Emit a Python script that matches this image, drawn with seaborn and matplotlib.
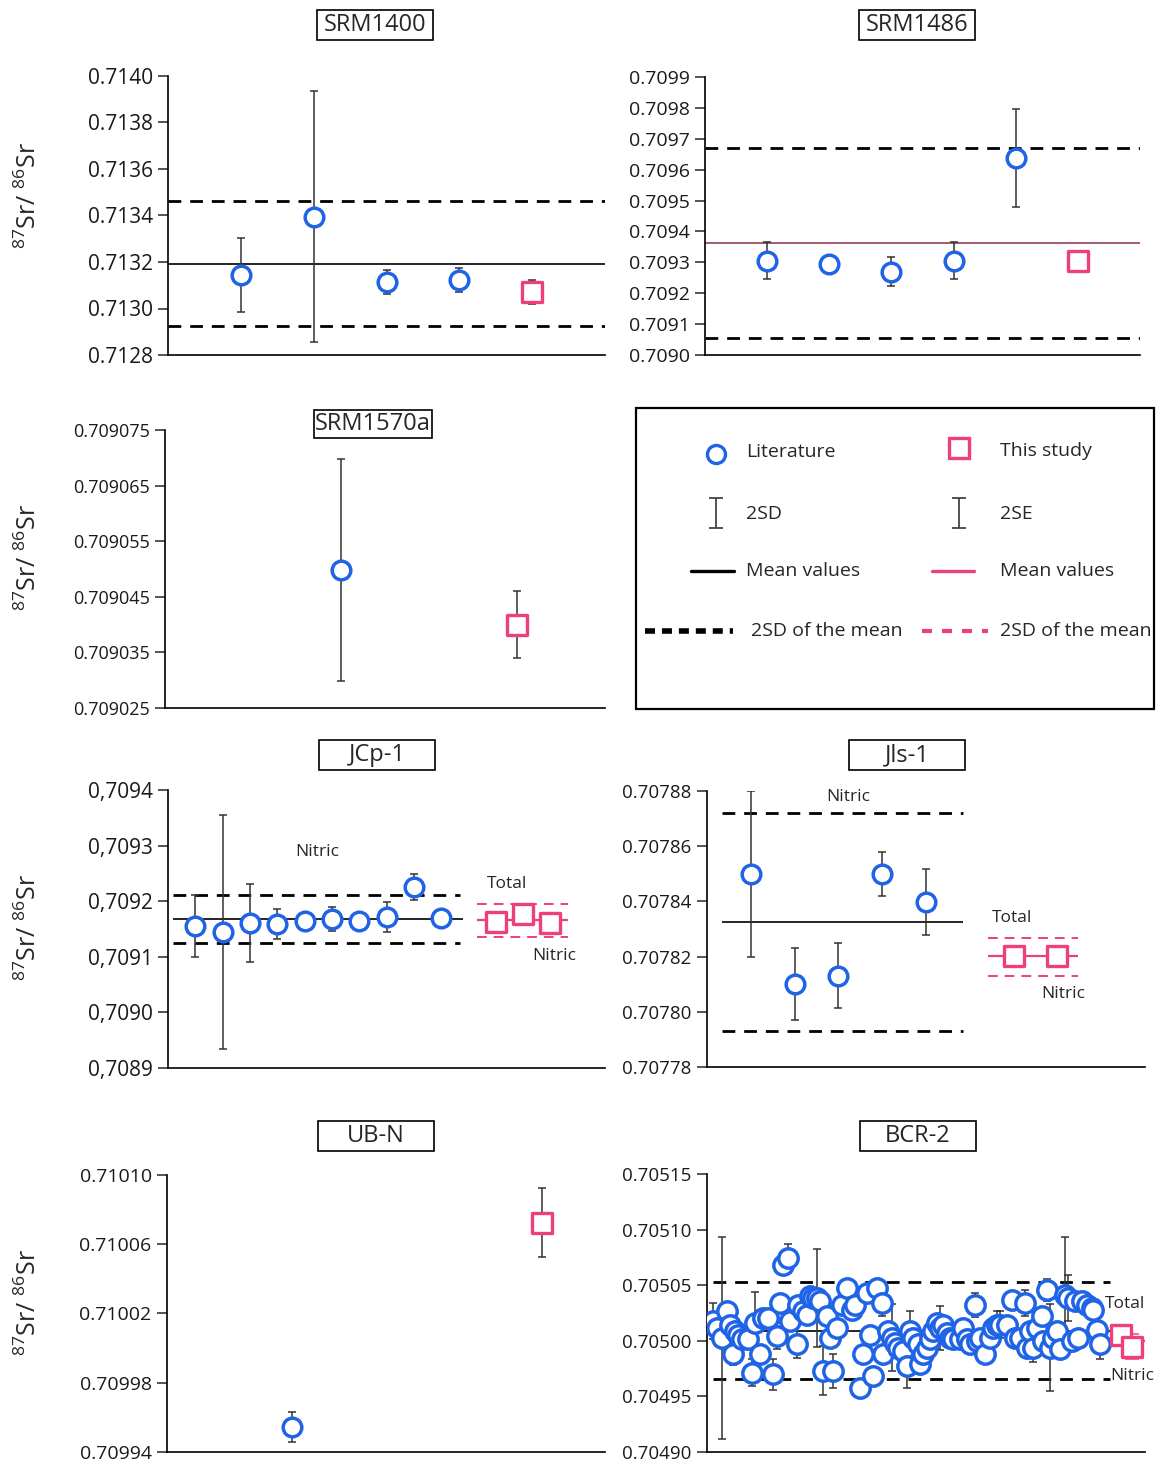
import numpy as np
import pandas as pd
import matplotlib
matplotlib.use("Agg")
import matplotlib.pyplot as plt
import seaborn as sns
from matplotlib.patches import Rectangle

sns.set_theme(style="white")
plt.rcParams['font.family'] = ['Open Sans', 'DejaVu Sans']
plt.rcParams['mathtext.fontset'] = 'custom'
plt.rcParams['mathtext.rm'] = 'Open Sans'
plt.rcParams['mathtext.it'] = 'Open Sans:italic'
plt.rcParams['mathtext.bf'] = 'Open Sans:bold'

BLUE = "#1F63E6"
PINK = "#EF3F78"
ERR = "#333333"

# ---------------- data ----------------
# SRM1400
srm1400_lit_x = [1, 2, 3, 4]
srm1400_lit_y = [0.713144, 0.713394, 0.713114, 0.713123]
srm1400_lit_err = [0.00016, 0.00054, 0.00005, 0.00005]
srm1400_this_x = [5]
srm1400_this_y = [0.713071]
srm1400_this_err = [0.00005]
srm1400_mean = 0.713191
srm1400_2sd = [0.713462, 0.712925]

# SRM1486
srm1486_lit_x = [1, 2, 3, 4, 5]
srm1486_lit_y = [0.709305, 0.709295, 0.709269, 0.709305, 0.709638]
srm1486_lit_err = [0.00006, 0.0, 0.000047, 0.00006, 0.00016]
srm1486_this_x = [6]
srm1486_this_y = [0.709305]
srm1486_mean = 0.709363
srm1486_2sd = [0.709670, 0.709055]

# SRM1570a
srm1570_lit_x = [2]
srm1570_lit_y = [0.7090498]
srm1570_lit_err = [0.00002]
srm1570_this_x = [4]
srm1570_this_y = [0.7090400]
srm1570_this_err = [0.000006]

# JCp-1
jcp_lit_x = [1, 2, 3, 4, 5, 6, 7, 8, 9, 10]
jcp_lit_y = [0.7091554, 0.7091446, 0.7091608, 0.7091590, 0.7091644,
             0.7091680, 0.7091644, 0.7091722, 0.7092255, 0.7091698]
jcp_lit_err = [0.000055, 0.00021, 0.00007, 0.000027, 0.0,
               0.000022, 0.0, 0.000027, 0.000023, 0.0]
jcp_this_x = [12, 13, 14]
jcp_this_y = [0.7091626, 0.7091770, 0.7091610]
jcp_mean = 0.7091680
jcp_2sd = [0.7092112, 0.7091248]
jcp_this_mean = 0.7091662
jcp_this_2sd = [0.7091950, 0.7091360]

# Jls-1
jls_lit_x = [1, 2, 3, 4, 5]
jls_lit_y = [0.7078499, 0.7078101, 0.7078130, 0.7078499, 0.7078398]
jls_lit_err = [0.00003, 0.000013, 0.0000118, 0.000008, 0.000012]
jls_this_x = [7, 8]
jls_this_y = [0.7078202, 0.7078202]
jls_mean = 0.7078325
jls_2sd = [0.7078720, 0.7077930]
jls_this_mean = 0.7078202
jls_this_2sd = [0.7078267, 0.7078130]

# UB-N
ubn_lit_x = [2]
ubn_lit_y = [0.7099544]
ubn_lit_err = [0.0000085]
ubn_this_x = [6]
ubn_this_y = [0.7100724]
ubn_this_err = [0.00002]

# BCR-2
bcr_lit_x = [4.0, 5.0, 6.5, 8.0, 9.0, 10.0, 10.5, 11.5, 12.5, 14.5,
             15.5, 16.5, 18.0, 19.0, 20.5, 22.0, 23.0, 24.0, 25.0, 26.5,
             27.0, 29.0, 29.5, 31.0, 32.0, 33.0, 34.0, 35.0, 36.0, 37.0,
             38.0, 39.0, 40.0, 41.0, 42.5, 44.0, 45.5, 46.5, 48.0, 49.0,
             50.0, 51.0, 52.0, 53.0, 54.5, 55.0, 56.5, 57.5, 58.5, 59.5,
             61.0, 62.0, 63.0, 64.0, 65.5, 66.0, 67.0, 68.0, 69.0, 70.0,
             71.0, 72.0, 73.0, 74.0, 75.0, 76.0, 78.0, 79.0, 80.0, 81.0,
             82.5, 83.0, 84.0, 85.5, 87.0, 88.0, 89.0, 90.0, 92.0, 93.5,
             94.5, 96.0, 97.5, 98.0, 99.0, 100.0, 101.0, 102.5, 103.0, 104.0,
             105.0, 106.0, 107.0, 108.0, 109.5, 110.5, 111.5, 112.5, 113.5, 114.5,
             116.0, 117.5, 118.0, 119.0, 120.0]
bcr_lit_y = [0.7050176, 0.7050116, 0.7050027, 0.7050265, 0.7050146, 0.7049878, 0.7050086, 0.7050056, 0.7050012, 0.7050012,
             0.7049714, 0.7050161, 0.7049878, 0.7050205, 0.7050205, 0.7049699, 0.7050042, 0.7050339, 0.7050682, 0.7050741,
             0.7050176, 0.7049967, 0.7050324, 0.7050265, 0.7050235, 0.7050399, 0.7050384, 0.7050384, 0.7050354, 0.7049729,
             0.7050220, 0.7050027, 0.7049729, 0.7050116, 0.7050324, 0.7050473, 0.7050280, 0.7050324, 0.7049580, 0.7049878,
             0.7050429, 0.7050056, 0.7049685, 0.7050473, 0.7050339, 0.7049878, 0.7050086, 0.7050027, 0.7049982, 0.7049938,
             0.7049908, 0.7049774, 0.7050086, 0.7050027, 0.7049967, 0.7049789, 0.7049878, 0.7049938, 0.7050012, 0.7050086,
             0.7050161, 0.7050116, 0.7050146, 0.7050071, 0.7050027, 0.7050012, 0.7050012, 0.7050116, 0.7050012, 0.7049967,
             0.7050324, 0.7049997, 0.7050027, 0.7049878, 0.7050027, 0.7050116, 0.7050146, 0.7050146, 0.7050146, 0.7050369,
             0.7050027, 0.7050027, 0.7050339, 0.7049938, 0.7050086, 0.7049938, 0.7050116, 0.7050220, 0.7049997, 0.7050458,
             0.7049938, 0.7050027, 0.7050086, 0.7049923, 0.7050414, 0.7050384, 0.7049997, 0.7050354, 0.7050027, 0.7050354,
             0.7050324, 0.7050295, 0.7050280, 0.7050101, 0.7049967]
bcr_lit_err = [1.6e-5, 0, 9.1e-5, 0, 0, 1.0e-5, 0, 0, 0, 0,
               1.2e-5, 2.8e-5, 0, 0, 0, 1.4e-5, 1.2e-5, 0, 0, 1.3e-5,
               0, 1.2e-5, 0, 0, 0, 0, 0, 4.4e-5, 0, 2.2e-5,
               0, 0, 1.5e-5, 0, 0, 0, 0, 0, 0, 0,
               0, 0, 0, 0, 1.2e-5, 0, 0, 3.0e-5, 0, 0,
               0, 2.0e-5, 1.8e-5, 0, 0, 0, 0, 0, 0, 0,
               0, 2.0e-5, 0, 0, 0, 0, 0, 0, 0, 0,
               1.1e-5, 0, 0, 0, 0, 0, 1.2e-5, 1.2e-5, 0, 0,
               0, 0, 1.2e-5, 0, 0, 1.3e-5, 0, 0, 0, 1.0e-5,
               3.9e-5, 0, 0, 0, 5.2e-5, 2.1e-5, 0, 0, 0, 0,
               0, 0, 0, 0, 1.3e-5]
bcr_this_x = [126.3, 129.6]
bcr_this_y = [0.7050054, 0.7049946]
bcr_this_err = [0.0000092, 0.0000113]
bcr_mean = 0.7050086
bcr_2sd = [0.7050527, 0.7049652]
bcr_this_mean = 0.7049997

# ---------------- figure ----------------
W, H = 1159, 1463
fig = plt.figure(figsize=(W / 100, H / 100), dpi=100)
fig.patch.set_facecolor('white')


def px_axes(x0, x1, y0, y1):
    return fig.add_axes([x0 / W, 1 - y1 / H, (x1 - x0) / W, (y1 - y0) / H])


def style(ax, xlim, ticks, labels, fs):
    ax.set_xlim(*xlim)
    ax.set_ylim(ticks[0], ticks[-1])
    ax.set_yticks(ticks)
    ax.set_yticklabels(labels, fontsize=fs, color='#1a1a1a')
    ax.set_xticks([])
    ax.set_xlabel('')
    ax.set_ylabel('')
    ax.set_facecolor('white')
    for s in ['top', 'right']:
        ax.spines[s].set_visible(False)
    for s in ['left', 'bottom']:
        ax.spines[s].set_visible(True)
        ax.spines[s].set_color('black')
        ax.spines[s].set_linewidth(1.2)
    ax.tick_params(axis='y', left=True, direction='out', length=7, width=1.1, pad=4)


def lit(ax, x, y):
    sns.scatterplot(x=x, y=y, ax=ax, marker='o', s=180, color='white',
                    edgecolor=BLUE, linewidth=2.5, zorder=4, legend=False)


def this(ax, x, y):
    sns.scatterplot(x=x, y=y, ax=ax, marker='s', s=190, color='white',
                    edgecolor=PINK, linewidth=2.4, zorder=4, legend=False)


def errs(ax, x, y, e, color=ERR, cap=3.0):
    x = np.asarray(x, float); y = np.asarray(y, float); e = np.asarray(e, float)
    m = e > 0
    if m.any():
        ax.errorbar(x[m], y[m], yerr=e[m], fmt='none', ecolor=color,
                    elinewidth=1.1, capsize=cap, capthick=1.1, zorder=2)


def hl(ax, y, x0, x1, color='black', lw=1.2, dashes=None, z=1):
    if dashes is None:
        ax.plot([x0, x1], [y, y], color=color, lw=lw, zorder=z, solid_capstyle='butt')
    else:
        ax.plot([x0, x1], [y, y], color=color, lw=lw, dashes=dashes, zorder=z,
                dash_capstyle='butt')


DASH = (4.6, 3.2)
PDASH = (5, 3.6)


def title_box(cx, cy, text, w=116, h=30):
    fig.patches.append(Rectangle(((cx - w / 2) / W, 1 - (cy + h / 2) / H), w / W, h / H,
                                 transform=fig.transFigure, facecolor='white',
                                 edgecolor='black', lw=1.2, zorder=10))
    fig.text(cx / W, 1 - cy / H, text, ha='center', va='center', fontsize=17, zorder=11)


YLAB = r'$^{87}$Sr/ $^{86}$Sr'


def ylab(cy):
    fig.text(29 / W, 1 - cy / H, YLAB, rotation=90, ha='center', va='center', fontsize=18)


# SRM1400
ax = px_axes(168, 605, 76, 355)
hl(ax, srm1400_mean, 0, 6)
for v in srm1400_2sd:
    hl(ax, v, 0, 6, lw=2.0, dashes=DASH)
errs(ax, srm1400_lit_x, srm1400_lit_y, srm1400_lit_err)
errs(ax, srm1400_this_x, srm1400_this_y, srm1400_this_err)
lit(ax, srm1400_lit_x, srm1400_lit_y)
this(ax, srm1400_this_x, srm1400_this_y)
t = [0.7128, 0.7130, 0.7132, 0.7134, 0.7136, 0.7138, 0.7140]
style(ax, (0, 6), t, [f"{v:.4f}" for v in t], 15)
title_box(375, 25, 'SRM1400')
ylab(195)

# SRM1486
ax = px_axes(705, 1140, 77, 355)
hl(ax, srm1486_mean, 0, 7, color='#8A2D4E', lw=1.1)
for v in srm1486_2sd:
    hl(ax, v, 0, 7, lw=2.0, dashes=DASH)
errs(ax, srm1486_lit_x, srm1486_lit_y, srm1486_lit_err)
lit(ax, srm1486_lit_x, srm1486_lit_y)
this(ax, srm1486_this_x, srm1486_this_y)
t = [0.7090 + 0.0001 * i for i in range(10)]
style(ax, (0, 7), t, [f"{v:.4f}" for v in t], 14)
title_box(917, 25, 'SRM1486')

# SRM1570a
ax = px_axes(165, 605, 430, 708)
errs(ax, srm1570_lit_x, srm1570_lit_y, srm1570_lit_err)
errs(ax, srm1570_this_x, srm1570_this_y, srm1570_this_err)
lit(ax, srm1570_lit_x, srm1570_lit_y)
this(ax, srm1570_this_x, srm1570_this_y)
t = [0.709025, 0.709035, 0.709045, 0.709055, 0.709065, 0.709075]
style(ax, (0, 5), t, [f"{v:.6f}" for v in t], 13)
title_box(373, 424, 'SRM1570a', w=118, h=28)
ylab(557)

# JCp-1
ax = px_axes(168, 605, 790, 1068)
hl(ax, jcp_mean, 0.18, 10.8)
for v in jcp_2sd:
    hl(ax, v, 0.18, 10.7, lw=2.0, dashes=DASH)
hl(ax, jcp_this_mean, 11.3, 14.65, color=PINK, lw=1.6)
for v in jcp_this_2sd:
    hl(ax, v, 11.3, 14.65, color=PINK, lw=1.4, dashes=PDASH)
errs(ax, jcp_lit_x, jcp_lit_y, jcp_lit_err)
lit(ax, jcp_lit_x, jcp_lit_y)
this(ax, jcp_this_x, jcp_this_y)
ax.text(5.46, 0.7092885, 'Nitric', ha='center', va='center', fontsize=12.5)
ax.text(12.4, 0.7092310, 'Total', ha='center', va='center', fontsize=12.5)
ax.text(14.14, 0.7091014, 'Nitric', ha='center', va='center', fontsize=12.5)
t = [0.7089, 0.7090, 0.7091, 0.7092, 0.7093, 0.7094]
style(ax, (0, 16), t, [f"{v:.4f}".replace('.', ',') for v in t], 15)
title_box(377, 755, 'JCp-1')
ylab(927)

# Jls-1
ax = px_axes(707, 1145, 791, 1067)
hl(ax, jls_mean, 0.34, 5.84)
for v in jls_2sd:
    hl(ax, v, 0.34, 5.84, lw=2.0, dashes=DASH)
hl(ax, jls_this_mean, 6.42, 8.47, color=PINK, lw=1.6)
for v in jls_this_2sd:
    hl(ax, v, 6.42, 8.47, color=PINK, lw=1.4, dashes=PDASH)
errs(ax, jls_lit_x, jls_lit_y, jls_lit_err)
lit(ax, jls_lit_x, jls_lit_y)
this(ax, jls_this_x, jls_this_y)
ax.text(3.22, 0.7078778, 'Nitric', ha='center', va='center', fontsize=12.5)
ax.text(6.96, 0.7078340, 'Total', ha='center', va='center', fontsize=12.5)
ax.text(8.13, 0.7078065, 'Nitric', ha='center', va='center', fontsize=12.5)
t = [0.70778, 0.70780, 0.70782, 0.70784, 0.70786, 0.70788]
style(ax, (0, 10), t, [f"{v:.5f}" for v in t], 13.5)
title_box(907, 755, 'Jls-1')

# UB-N
ax = px_axes(167, 605, 1175, 1452)
errs(ax, ubn_lit_x, ubn_lit_y, ubn_lit_err)
errs(ax, ubn_this_x, ubn_this_y, ubn_this_err)
lit(ax, ubn_lit_x, ubn_lit_y)
this(ax, ubn_this_x, ubn_this_y)
t = [0.70994, 0.70998, 0.71002, 0.71006, 0.71010]
style(ax, (0, 7), t, [f"{v:.5f}" for v in t], 14)
title_box(376, 1136, 'UB-N')
ylab(1302)

# BCR-2
ax = px_axes(707, 1145, 1174, 1452)
hl(ax, bcr_mean, 2.1, 123.0)
for v in bcr_2sd:
    hl(ax, v, 4.0, 123.0, lw=2.0, dashes=DASH)
hl(ax, bcr_this_mean, 123.0, 133.5, color=PINK, lw=1.6)
errs(ax, bcr_lit_x, bcr_lit_y, bcr_lit_err)
errs(ax, bcr_this_x, bcr_this_y, bcr_this_err, color=PINK, cap=5)
bcr_df = pd.DataFrame({'x': bcr_lit_x, 'y': bcr_lit_y})
sns.scatterplot(data=bcr_df, x='x', y='y', ax=ax, marker='o', s=195, color='white',
                edgecolor=BLUE, linewidth=2.5, zorder=4, legend=False)
this(ax, bcr_this_x, bcr_this_y)
ax.text(121.5, 0.7050330, 'Total', ha='left', va='center', fontsize=12.5, zorder=6)
ax.text(123.0, 0.7049679, 'Nitric', ha='left', va='center', fontsize=12.5, zorder=6)
t = [0.70490, 0.70495, 0.70500, 0.70505, 0.70510, 0.70515]
style(ax, (2.1, 133.5), t, [f"{v:.5f}" for v in t], 13.5)
title_box(918, 1136, 'BCR-2')

# Legend panel
lax = px_axes(635, 1155, 407, 710)
lax.set_xlim(635, 1155)
lax.set_ylim(710, 407)
lax.axis('off')
lax.add_patch(Rectangle((636, 408), 518, 301, fill=False, ec='black', lw=1.6, clip_on=False))
FS = 14
lax.plot([716], [454], marker='o', ms=13, mfc='white', mec=BLUE, mew=2.4)
lax.text(746, 452, 'Literature', va='center', fontsize=FS)
lax.plot([959], [448], marker='s', ms=14, mfc='white', mec=PINK, mew=2.4)
lax.text(1000, 451, 'This study', va='center', fontsize=FS)
lax.errorbar([716], [513], yerr=[15], fmt='none', ecolor='#444444', capsize=5,
             elinewidth=1.3, capthick=1.3)
lax.text(746, 514, '2SD', va='center', fontsize=FS)
lax.errorbar([959], [513], yerr=[15], fmt='none', ecolor='#444444', capsize=5,
             elinewidth=1.3, capthick=1.3)
lax.text(1000, 514, '2SE', va='center', fontsize=FS)
lax.plot([691, 734], [571, 571], color='black', lw=2.4)
lax.text(746, 571, 'Mean values', va='center', fontsize=FS)
lax.plot([932, 974], [571, 571], color=PINK, lw=2.4)
lax.text(1000, 571, 'Mean values', va='center', fontsize=FS)
lax.plot([645, 733], [631, 631], color='black', lw=4, dashes=(1.8, 1.25))
lax.text(751, 631, '2SD of the mean', va='center', fontsize=FS)
lax.plot([922, 988], [631, 631], color=PINK, lw=3, dashes=(2.4, 2.4))
lax.text(1000, 631, '2SD of the mean', va='center', fontsize=FS)

fig.savefig('out.png', dpi=100, facecolor='white')
